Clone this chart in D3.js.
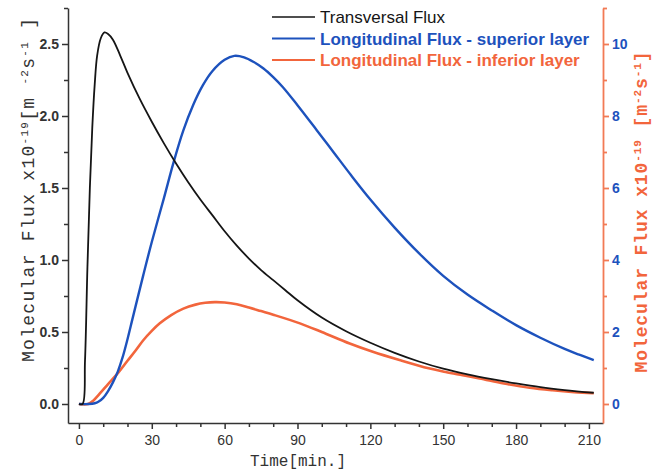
<!DOCTYPE html>
<html>
<head>
<meta charset="utf-8">
<script src="https://cdn.jsdelivr.net/npm/d3@7"></script>
<style>
    body { margin: 0; background: #ffffff; }
    #data-viz { width: 661px; height: 470px; }
</style>
</head>
<body>
<div id="data-viz"></div>
<script>
// Transversal flux (left axis, x10^-19 m^-2 s^-1)
const transTime = [0, 1.5, 2.5, 3.5, 4.5, 5.5, 6.5, 7.5, 9, 10.5, 12, 14, 17, 20, 25, 30, 35, 40, 45, 50, 55, 60, 65, 70, 75, 80, 85, 90, 100, 110, 120, 130, 140, 150, 160, 170, 180, 190, 200, 212]
const transFlux = [0, 0, 0.3, 0.95, 1.5, 1.92, 2.22, 2.42, 2.54, 2.58, 2.57, 2.53, 2.42, 2.3, 2.12, 1.96, 1.81, 1.67, 1.54, 1.42, 1.31, 1.2, 1.1, 1.01, 0.93, 0.86, 0.79, 0.72, 0.6, 0.505, 0.425, 0.355, 0.295, 0.245, 0.205, 0.172, 0.143, 0.117, 0.097, 0.078]

// Longitudinal flux, superior layer (right axis)
const supTime = [0, 4, 6.5, 8, 10, 12, 14, 16, 18, 20, 22, 24, 26.5, 30, 35, 39, 43, 47, 51, 55, 60, 64, 68, 72, 76, 80, 84, 90, 98, 105, 112, 120, 130, 140, 150, 160, 170, 180, 190, 200, 206, 212]
const supFlux = [0, 0, 0.02, 0.06, 0.17, 0.36, 0.6, 0.9, 1.3, 1.8, 2.35, 2.9, 3.58, 4.5, 5.72, 6.72, 7.6, 8.3, 8.85, 9.25, 9.56, 9.67, 9.63, 9.5, 9.32, 9.08, 8.8, 8.3, 7.6, 6.98, 6.36, 5.68, 4.9, 4.19, 3.56, 3.04, 2.6, 2.19, 1.84, 1.53, 1.37, 1.22]

// Longitudinal flux, inferior layer (right axis)
const infTime = [0, 3.8, 6, 9, 12, 16.2, 20, 23.5, 26.5, 30, 33.3, 38, 43, 48, 52, 56, 60, 65, 70, 75, 80, 91, 100, 111.5, 121, 132, 144, 151, 158, 165, 175, 185.6, 195, 204, 212]
const infFlux = [0, 0, 0.1, 0.32, 0.55, 0.87, 1.2, 1.5, 1.77, 2.03, 2.24, 2.47, 2.65, 2.76, 2.81, 2.83, 2.82, 2.77, 2.68, 2.58, 2.48, 2.24, 2.0, 1.68, 1.45, 1.22, 0.99, 0.89, 0.8, 0.71, 0.57, 0.45, 0.38, 0.33, 0.30]

const xTicks = [0, 30, 60, 90, 120, 150, 180, 210]
const xMinorTicks = [10, 20, 40, 50, 70, 80, 100, 110, 130, 140, 160, 170, 190, 200]
const leftTicks = [0, 0.5, 1.0, 1.5, 2.0, 2.5]
const leftMinorTicks = [0.25, 0.75, 1.25, 1.75, 2.25, 2.75]
const rightTicks = [0, 2, 4, 6, 8, 10]
const rightMinorTicks = [1, 3, 5, 7, 9, 11]
const legendLabels = ["Transversal Flux", "Longitudinal Flux - superior layer", "Longitudinal Flux - inferior layer"]

function fluxChart() {

    const colorBlack = "#151515"
    const colorBlue = "#1d52bd"
    const colorOrange = "#f2653c"
    const colorAxis = "#333333"
    const colorRightAxis = "#f27a55"

    let dimensions = {
        width: 661,
        height: 470,
        margin: {
            top: 8,
            bottom: 47,
            left: 68,
            right: 58,
        }
    }
    dimensions.boundedWidth = dimensions.width - dimensions.margin.left - dimensions.margin.right
    dimensions.boundedHeight = dimensions.height - dimensions.margin.top - dimensions.margin.bottom

    const wrapper = d3.select("#data-viz")
        .append("svg")
        .attr("width", dimensions.width)
        .attr("height", dimensions.height)
        .style("font-family", "'Liberation Sans', Arial, sans-serif")

    const chart = wrapper.append("g")
        .attr("transform", `translate(${dimensions.margin.left}, ${dimensions.margin.top})`)

    const xScale = d3.scaleLinear()
        .domain([-4.5, 215.8])
        .range([0, dimensions.boundedWidth])

    const yLeft = d3.scaleLinear()
        .domain([-0.132, 2.75])
        .range([dimensions.boundedHeight, 0])

    const yRight = d3.scaleLinear()
        .domain([-0.528, 11])
        .range([dimensions.boundedHeight, 0])

    // Curves
    const lineLeft = d3.line()
        .x(d => xScale(d[0]))
        .y(d => yLeft(d[1]))
        .curve(d3.curveCatmullRom.alpha(0.5))
    const lineRight = d3.line()
        .x(d => xScale(d[0]))
        .y(d => yRight(d[1]))
        .curve(d3.curveCatmullRom.alpha(0.5))

    chart.append("path")
        .datum(d3.zip(infTime, infFlux))
        .attr("d", lineRight)
        .attr("fill", "none")
        .attr("stroke", colorOrange)
        .attr("stroke-width", 2.6)

    chart.append("path")
        .datum(d3.zip(supTime, supFlux))
        .attr("d", lineRight)
        .attr("fill", "none")
        .attr("stroke", colorBlue)
        .attr("stroke-width", 2.4)

    chart.append("path")
        .datum(d3.zip(transTime, transFlux))
        .attr("d", lineLeft)
        .attr("fill", "none")
        .attr("stroke", colorBlack)
        .attr("stroke-width", 1.8)

    // Bottom axis
    const xAxis = chart.append("g")
        .attr("transform", `translate(0, ${dimensions.boundedHeight})`)
        .call(d3.axisBottom(xScale).tickValues(xTicks).tickSize(6).tickSizeOuter(0).tickPadding(6))
    xAxis.append("g")
        .call(d3.axisBottom(xScale).tickValues(xMinorTicks).tickSize(4).tickSizeOuter(0).tickFormat(""))
        .select(".domain").remove()
    xAxis.selectAll("path, line").attr("stroke", colorAxis).attr("stroke-width", 1.5)
    xAxis.selectAll("text")
        .attr("fill", colorAxis)
        .style("font-size", "14px")

    // Left axis
    const leftAxis = chart.append("g")
        .call(d3.axisLeft(yLeft).tickValues(leftTicks).tickSize(6).tickSizeOuter(0).tickPadding(3).tickFormat(d3.format(".1f")))
    leftAxis.append("g")
        .call(d3.axisLeft(yLeft).tickValues(leftMinorTicks).tickSize(4).tickSizeOuter(0).tickFormat(""))
        .select(".domain").remove()
    leftAxis.selectAll("path, line").attr("stroke", colorAxis).attr("stroke-width", 1.5)
    leftAxis.selectAll("text")
        .attr("fill", colorAxis)
        .style("font-size", "14px")
        .style("font-weight", "bold")

    // Right axis
    const rightAxis = chart.append("g")
        .attr("transform", `translate(${dimensions.boundedWidth}, 0)`)
        .call(d3.axisRight(yRight).tickValues(rightTicks).tickSize(6).tickSizeOuter(0).tickPadding(3))
    rightAxis.append("g")
        .call(d3.axisRight(yRight).tickValues(rightMinorTicks).tickSize(4).tickSizeOuter(0).tickFormat(""))
        .select(".domain").remove()
    rightAxis.selectAll("path, line").attr("stroke", colorRightAxis).attr("stroke-width", 1.8)
    rightAxis.selectAll("text")
        .attr("fill", colorBlue)
        .style("font-size", "14px")
        .style("font-weight", "bold")

    // Axis titles
    const mono = "'Liberation Mono', 'Courier New', monospace"

    wrapper.append("text")
        .attr("x", 298)
        .attr("y", 466)
        .attr("text-anchor", "middle")
        .attr("fill", colorAxis)
        .style("font-family", mono)
        .style("font-size", "16px")
        .text("Time[min.]")

    function unitTitle(x, y, color, weight, length, parts) {
        const t = wrapper.append("text")
            .attr("transform", `translate(${x}, ${y}) rotate(-90)`)
            .attr("text-anchor", "middle")
            .attr("textLength", length)
            .attr("lengthAdjust", "spacing")
            .attr("fill", color)
            .style("font-family", mono)
            .style("font-size", "18px")
            .style("font-weight", weight)
        parts.forEach(p => {
            const span = t.append("tspan").text(p[0])
            if (p[1]) {
                span.attr("baseline-shift", "super").style("font-size", "11px")
            }
        })
    }

    unitTitle(34, 190, colorAxis, "normal", 344,
        [["Molecular Flux x10", false], ["-19", true], ["[m ", false], ["-2", true], ["s", false], ["-1", true], ["  ]", false]])
    unitTitle(647, 212, colorOrange, "bold", 321,
        [["Molecular Flux x10", false], ["-19", true], [" [m", false], ["-2", true], ["s", false], ["-1", true], ["]", false]])

    // Legend
    const legendColors = [colorBlack, colorBlue, colorOrange]
    const legendWeights = ["normal", "bold", "bold"]
    const legend = wrapper.append("g")
    legendLabels.forEach((label, i) => {
        const cy = 17 + i * 21.5
        legend.append("line")
            .attr("x1", 272).attr("x2", 315)
            .attr("y1", cy).attr("y2", cy)
            .attr("stroke", legendColors[i])
            .attr("stroke-width", i === 0 ? 1.5 : 2)
        legend.append("text")
            .attr("x", 320)
            .attr("y", cy + 6)
            .attr("fill", legendColors[i])
            .style("font-size", "17px")
            .style("font-weight", legendWeights[i])
            .text(label)
    })
}

fluxChart()
</script>
</body>
</html>
